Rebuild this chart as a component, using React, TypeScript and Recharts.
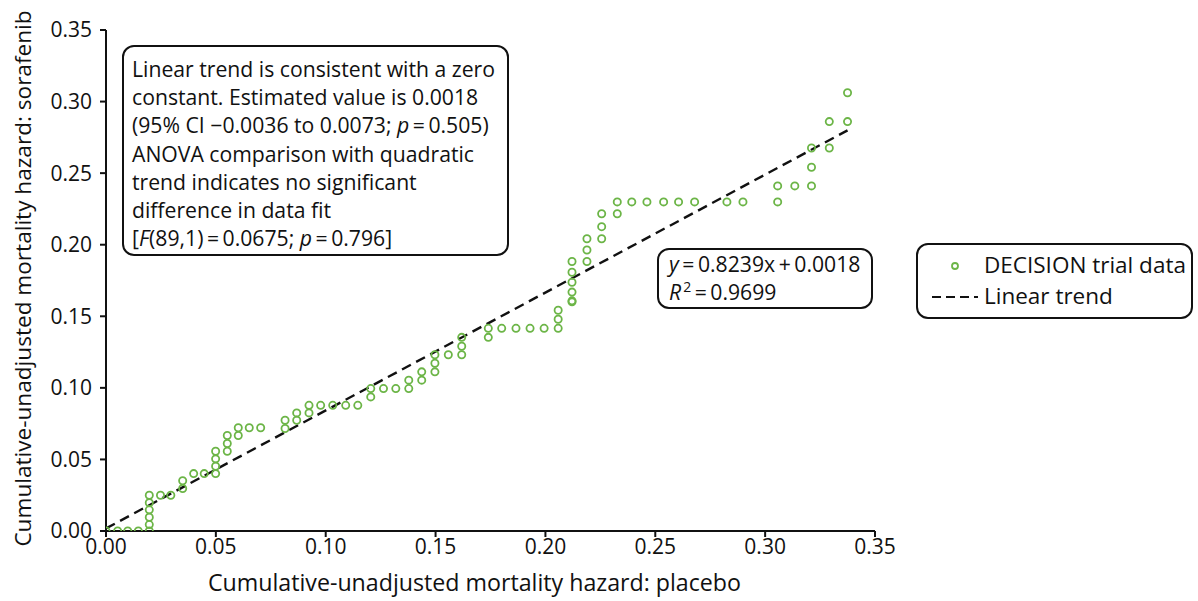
import { ScatterChart, Scatter, XAxis, YAxis } from 'recharts';

// DECISION trial data (x: placebo, y: sorafenib)
const placeboHazard = [
  0, 0.0053, 0.0099, 0.0147, 0.0197, 0.0197, 0.0197, 0.0197, 0.0197, 0.0197,
  0.0248, 0.0295, 0.0349, 0.0349, 0.0399, 0.0447, 0.0499, 0.0499, 0.0499, 0.0499,
  0.0552, 0.0552, 0.0552, 0.0602, 0.0602, 0.0652, 0.0704, 0.0815, 0.0815, 0.0868,
  0.0868, 0.0924, 0.0924, 0.0977, 0.1032, 0.1091, 0.1146, 0.1205, 0.1205, 0.1263,
  0.1319, 0.1378, 0.1378, 0.1437, 0.1437, 0.1497, 0.1497, 0.1497, 0.1558, 0.1619,
  0.1619, 0.1619, 0.174, 0.174, 0.1801, 0.1866, 0.193, 0.1994, 0.2058, 0.2058,
  0.2058, 0.2121, 0.2121, 0.2121, 0.2121, 0.2121, 0.2121, 0.2189, 0.2189, 0.2189,
  0.2256, 0.2256, 0.2256, 0.2327, 0.2327, 0.2393, 0.2462, 0.2538, 0.2606, 0.2679,
  0.2826, 0.2899, 0.3057, 0.3057, 0.3135, 0.3211, 0.3211, 0.3211, 0.3292, 0.3292,
  0.3375, 0.3375,
];
const sorafenibHazard = [
  0, 0, 0, 0, 0, 0.0045, 0.0096, 0.0148, 0.0197, 0.025,
  0.025, 0.025, 0.0297, 0.0351, 0.0401, 0.0401, 0.0401, 0.0452, 0.0504, 0.0557,
  0.0557, 0.0611, 0.0667, 0.0667, 0.0721, 0.0721, 0.0721, 0.0716, 0.0774, 0.0774,
  0.0825, 0.0825, 0.0878, 0.0878, 0.0878, 0.0878, 0.0878, 0.0937, 0.0995, 0.0995,
  0.0995, 0.0995, 0.1054, 0.1054, 0.1112, 0.1112, 0.1172, 0.1231, 0.1231, 0.1231,
  0.1291, 0.1353, 0.1353, 0.1416, 0.1416, 0.1416, 0.1416, 0.1416, 0.1416, 0.1479,
  0.1542, 0.1601, 0.1608, 0.1669, 0.1738, 0.1808, 0.1883, 0.1883, 0.1963, 0.2042,
  0.2042, 0.2126, 0.2216, 0.2216, 0.2299, 0.2299, 0.2299, 0.2299, 0.2299, 0.2299,
  0.2299, 0.2299, 0.2299, 0.2411, 0.2411, 0.2411, 0.2541, 0.2676, 0.2676, 0.286,
  0.286, 0.3062,
];

// linear trend y = 0.8239x + 0.0018, end points
const trendX = [0, 0.3375];
const trendY = [0.0018, 0.2799];

const axisTicks = [0, 0.05, 0.1, 0.15, 0.2, 0.25, 0.3, 0.35];

const trialData = placeboHazard.map((x, i) => ({ x, y: sorafenibHazard[i] }));
const trendData = trendX.map((x, i) => ({ x, y: trendY[i] }));

const FONT = '"Open Sans", sans-serif';
const GREEN = '#6cb547';

const OpenCircle = (props: any) => (
  <circle cx={props.cx} cy={props.cy} r={3.6} fill="none" stroke={GREEN} strokeWidth={1.8} />
);

const NoShape = () => <g />;

const XLabel = (props: any) => {
  const { x, y, width } = props.viewBox;
  return (
    <text x={x + width / 2 - 16} y={y + 60} textAnchor="middle" fontFamily={FONT} fontSize={23.2} fill="#111">
      Cumulative-unadjusted mortality hazard: placebo
    </text>
  );
};

const YLabel = (props: any) => {
  const { y, height } = props.viewBox;
  const cx = 22;
  const cy = y + height / 2 - 2;
  return (
    <text
      x={cx}
      y={cy}
      transform={`rotate(-90 ${cx} ${cy})`}
      textAnchor="middle"
      dominantBaseline="central"
      fontFamily={FONT}
      fontSize={22.6}
      fill="#111"
    >
      Cumulative-unadjusted mortality hazard: sorafenib
    </text>
  );
};

const boxText: React.CSSProperties = {
  position: 'absolute',
  border: '2px solid #111',
  borderRadius: 12,
  boxSizing: 'border-box',
  fontFamily: FONT,
  fontSize: 21.2,
  color: '#111',
  background: 'white',
};

export default function App() {
  return (
    <div style={{ position: 'absolute', left: 0, top: 0, width: 1198, height: 601, background: 'white' }}>
      <ScatterChart width={1198} height={601} margin={{ top: 30, right: 323, left: 0, bottom: 0 }}>
        <XAxis
          type="number"
          dataKey="x"
          domain={[0, 0.35]}
          ticks={axisTicks}
          tickFormatter={(v: number) => v.toFixed(2)}
          height={70}
          stroke="#111"
          strokeWidth={2}
          tickSize={6}
          tickMargin={2}
          tick={{ fontFamily: FONT, fontSize: 21, fill: '#111' }}
          label={<XLabel />}
          allowDataOverflow
        />
        <YAxis
          type="number"
          dataKey="y"
          domain={[0, 0.35]}
          ticks={axisTicks}
          tickFormatter={(v: number) => v.toFixed(2)}
          width={106}
          stroke="#111"
          strokeWidth={2}
          tickSize={6}
          tickMargin={8}
          tick={{ fontFamily: FONT, fontSize: 21, fill: '#111' }}
          label={<YLabel />}
          allowDataOverflow
        />
        <Scatter
          data={trendData}
          line={{ stroke: '#111', strokeWidth: 2.4, strokeDasharray: '10 6' }}
          shape={NoShape}
          isAnimationActive={false}
        />
        <Scatter data={trialData} shape={OpenCircle} isAnimationActive={false} />
      </ScatterChart>

      <div style={{ ...boxText, left: 122, top: 45, width: 387, height: 211, padding: '8px 0 0 8px', lineHeight: '28px' }}>
        <div>Linear trend is consistent with a zero</div>
        <div>constant. Estimated value is 0.0018</div>
        <div>(95% CI &minus;0.0036 to 0.0073; <i>p</i>&thinsp;=&thinsp;0.505)</div>
        <div style={{ marginTop: 1 }}>ANOVA comparison with quadratic</div>
        <div>trend indicates no significant</div>
        <div>difference in data fit</div>
        <div>[<i>F</i>(89,1)&thinsp;=&thinsp;0.0675; <i>p</i>&thinsp;=&thinsp;0.796]</div>
      </div>

      <div style={{ ...boxText, left: 657, top: 248, width: 216, height: 61, padding: '0 0 0 10px', lineHeight: '28px' }}>
        <div><i>y</i>&thinsp;=&thinsp;0.8239x&thinsp;+&thinsp;0.0018</div>
        <div>
          <i style={{ marginRight: 2 }}>R</i>
          <span style={{ position: 'relative', top: -8, fontSize: 14 }}>2</span>
          &thinsp;=&thinsp;0.9699
        </div>
      </div>

      <div style={{ ...boxText, left: 916, top: 243, width: 277, height: 76, fontSize: 22.5 }}>
        <svg width={60} height={72} style={{ position: 'absolute', left: 8, top: 0 }}>
          <circle cx={29} cy={21} r={3} fill="none" stroke={GREEN} strokeWidth={1.8} />
          <line x1={6} y1={52} x2={52} y2={52} stroke="#111" strokeWidth={2} strokeDasharray="9 5" />
        </svg>
        <div style={{ position: 'absolute', left: 66, top: 6, lineHeight: '28px' }}>DECISION trial data</div>
        <div style={{ position: 'absolute', left: 66, top: 37, lineHeight: '28px' }}>Linear trend</div>
      </div>
    </div>
  );
}
